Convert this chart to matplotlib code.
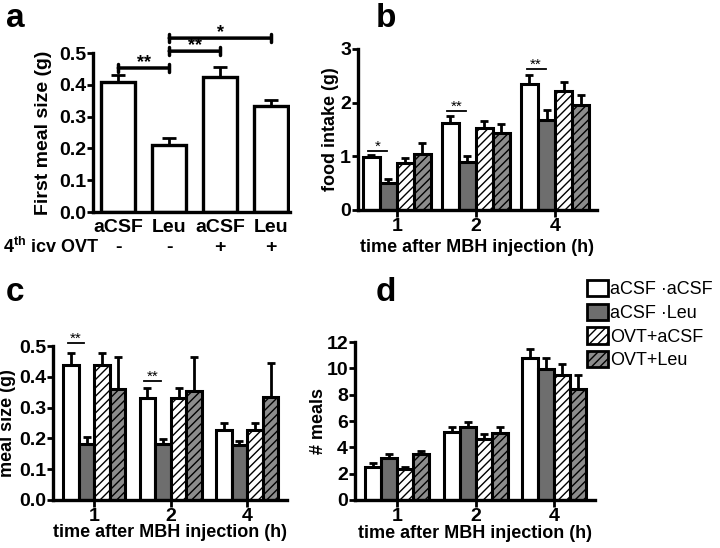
import numpy as np
import matplotlib
matplotlib.use('Agg')
import matplotlib.pyplot as plt
from matplotlib.patches import Patch
from matplotlib.transforms import blended_transform_factory

plt.rcParams['font.family'] = ['Liberation Sans', 'DejaVu Sans']
plt.rcParams['font.weight'] = 'bold'
plt.rcParams['axes.labelweight'] = 'bold'
plt.rcParams['hatch.linewidth'] = 1.0
plt.rcParams['mathtext.fontset'] = 'custom'
plt.rcParams['mathtext.bf'] = 'Liberation Sans:bold'
plt.rcParams['mathtext.rm'] = 'Liberation Sans:bold'

## panel a: first meal size
a_labels = ['aCSF', 'Leu', 'aCSF', 'Leu']
a_ovt = ['-', '-', '+', '+']
a_mean = [0.41, 0.21, 0.425, 0.335]
a_sem = [0.022, 0.022, 0.03, 0.018]

## panels b-d: groups x time points
hours = ['1', '2', '4']
groups = ['aCSF \u00b7aCSF', 'aCSF \u00b7Leu', 'OVT+aCSF', 'OVT+Leu']

food_mean = [[0.98, 1.63, 2.34], [0.51, 0.90, 1.68], [0.87, 1.53, 2.22], [1.05, 1.43, 1.96]]
food_sem = [[0.05, 0.13, 0.17], [0.07, 0.10, 0.19], [0.10, 0.12, 0.16], [0.20, 0.17, 0.18]]

size_mean = [[0.438, 0.332, 0.227], [0.181, 0.181, 0.179], [0.438, 0.332, 0.227], [0.359, 0.355, 0.335]]
size_sem = [[0.04, 0.031, 0.022], [0.024, 0.016, 0.014], [0.04, 0.031, 0.022], [0.104, 0.108, 0.111]]

meals_mean = [[2.52, 5.14, 10.76], [3.20, 5.52, 9.92], [2.33, 4.61, 9.47], [3.47, 5.11, 8.43]]
meals_sem = [[0.31, 0.43, 0.70], [0.29, 0.43, 0.84], [0.20, 0.38, 0.83], [0.25, 0.46, 1.06]]

fills = ['white', '#6e6e6e', 'white', '#8c8c8c']
hatches = [None, None, '////', '////']


def style_axes(ax):
    for s in ['top', 'right']:
        ax.spines[s].set_visible(False)
    for s in ['left', 'bottom']:
        ax.spines[s].set_linewidth(2.4)
    ax.tick_params(axis='y', direction='out', length=4, width=2, labelsize=14, pad=1)
    ax.tick_params(axis='x', direction='out', length=5, width=2, labelsize=14, pad=0.5)


def grouped(ax, means, sems, pitch, capsize):
    x = np.arange(len(hours))
    for i in range(4):
        xs = x + (i - 1.5) * pitch
        ax.bar(xs, means[i], width=pitch, color=fills[i], edgecolor='black',
               linewidth=2.2, hatch=hatches[i], zorder=2)
        ax.errorbar(xs, means[i], yerr=[np.zeros(3), sems[i]], fmt='none',
                    ecolor='black', elinewidth=2, capsize=capsize, capthick=2, zorder=1)
    ax.set_xticks(x)
    ax.set_xticklabels(hours)


def sig(ax, x0, x1, y, stars, dy):
    ax.plot([x0, x1], [y, y], color='black', lw=1.3, clip_on=False)
    ax.text((x0 + x1) / 2, y + dy, stars, ha='center', va='center', fontsize=11,
            fontweight='normal')


fig = plt.figure(figsize=(7.2, 5.48), dpi=100)

## a
ax = fig.add_axes([0.129, 0.6131, 0.2736, 0.2901])
xa = np.arange(4)
ax.bar(xa, a_mean, width=0.67, color='white', edgecolor='black', linewidth=2.4, zorder=2)
ax.errorbar(xa, a_mean, yerr=[np.zeros(4), a_sem], fmt='none', ecolor='black',
            elinewidth=2, capsize=5, capthick=2, zorder=1)
style_axes(ax)
ax.set_xlim(-0.5, 3.37)
ax.set_ylim(0, 0.5)
ax.set_yticks(np.arange(0, 0.51, 0.1))
ax.set_yticklabels(['%.1f' % v for v in np.arange(0, 0.51, 0.1)])
ax.set_xticks(xa)
ax.set_xticklabels(a_labels)
ax.tick_params(axis='x', length=0, pad=5)
ax.set_ylabel('First meal size (g)', fontsize=14)
ax.yaxis.set_label_coords(-0.205, 0.5)
tr = blended_transform_factory(ax.transData, ax.transAxes)
for i, s in enumerate(a_ovt):
    ax.text(xa[i], -0.225, s, transform=tr, ha='center', va='center', fontsize=14)
fig.text(3 / 720, 1 - 247 / 548, '4$^{\\mathbf{th}}$ icv OVT', ha='left', va='center',
         fontsize=13)
for (x0, x1, y, stars) in [(0, 1, 0.453, '**'), (1, 2, 0.506, '**'), (1, 3, 0.547, '*')]:
    ax.annotate('', xy=(x0, y), xytext=(x1, y), annotation_clip=False,
                arrowprops=dict(arrowstyle='|-|, widthA=0.3, widthB=0.3', lw=2.5,
                                shrinkA=0, shrinkB=0))
    ax.text((x0 + x1) / 2, y + 0.018, stars, ha='center', va='center', fontsize=13)
fig.text(0.008, 0.967, 'a', fontsize=24, va='center')

## b
ax = fig.add_axes([0.4972, 0.6168, 0.3319, 0.2938])
grouped(ax, food_mean, food_sem, 0.215, 3)
style_axes(ax)
ax.set_xlim(-0.49, 2.53)
ax.set_ylim(0, 3)
ax.set_yticks([0, 1, 2, 3])
ax.set_ylabel('food intake (g)', fontsize=13)
ax.yaxis.set_label_coords(-0.08, 0.5)
ax.set_xlabel('time after MBH injection (h)', fontsize=13)
ax.xaxis.set_label_coords(0.5, -0.18)
sig(ax, -0.36, -0.12, 1.09, '*', 0.08)
sig(ax, 1 - 0.36, 1 - 0.12, 1.84, '**', 0.08)
sig(ax, 2 - 0.36, 2 - 0.12, 2.62, '**', 0.08)
fig.text(0.522, 0.967, 'b', fontsize=24, va='center')

## c
ax = fig.add_axes([0.0736, 0.0876, 0.325, 0.281])
grouped(ax, size_mean, size_sem, 0.203, 3)
style_axes(ax)
ax.set_xlim(-0.54, 2.52)
ax.set_ylim(0, 0.5)
ax.set_yticks(np.arange(0, 0.51, 0.1))
ax.set_yticklabels(['%.1f' % v for v in np.arange(0, 0.51, 0.1)])
ax.set_ylabel('meal size (g)', fontsize=13)
ax.yaxis.set_label_coords(-0.16, 0.5)
ax.set_xlabel('time after MBH injection (h)', fontsize=13)
ax.xaxis.set_label_coords(0.5, -0.158)
sig(ax, -0.35, -0.13, 0.509, '**', 0.014)
sig(ax, 1 - 0.35, 1 - 0.13, 0.386, '**', 0.014)
fig.text(0.008, 0.467, 'c', fontsize=24, va='center')

## d
ax = fig.add_axes([0.4931, 0.0876, 0.3333, 0.2883])
grouped(ax, meals_mean, meals_sem, 0.204, 3)
style_axes(ax)
ax.set_xlim(-0.535, 2.52)
ax.set_ylim(0, 12)
ax.set_yticks(np.arange(0, 13, 2))
ax.set_ylabel('# meals', fontsize=13)
ax.yaxis.set_label_coords(-0.115, 0.5)
ax.set_xlabel('time after MBH injection (h)', fontsize=13)
ax.xaxis.set_label_coords(0.5, -0.158)
fig.text(0.522, 0.467, 'd', fontsize=24, va='center')

handles = [Patch(facecolor=fills[i], edgecolor='black', hatch=hatches[i], linewidth=2)
           for i in range(4)]
fig.legend(handles, groups, loc='upper left', bbox_to_anchor=(587 / 720, 1 - 280 / 548),
           frameon=False, prop={'size': 13, 'weight': 'normal'}, handlelength=1.15,
           handleheight=1.0, handletextpad=0.12, labelspacing=0.3, borderaxespad=0,
           borderpad=0)

plt.savefig('out.png', dpi=100)
